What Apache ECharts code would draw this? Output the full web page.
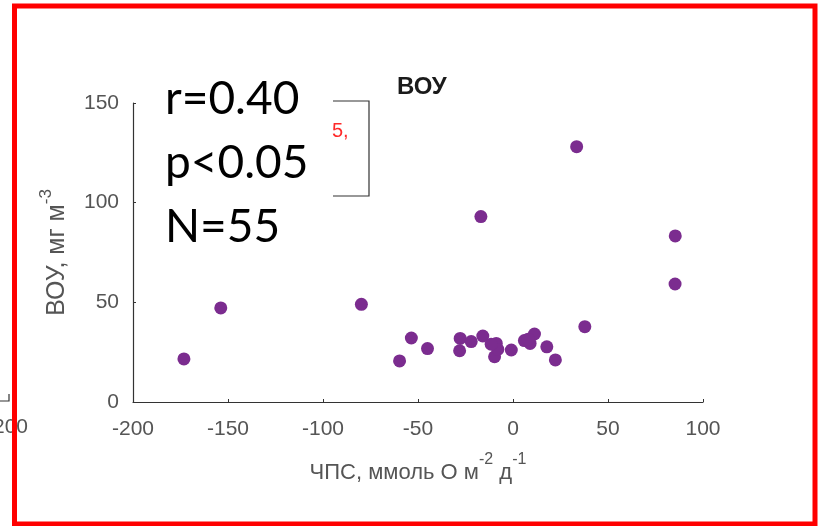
<!DOCTYPE html>
<html>
<head>
<meta charset="utf-8">
<script src="https://cdn.jsdelivr.net/npm/echarts@6/dist/echarts.min.js"></script>
<style>html,body{margin:0;padding:0;background:#fff;}#c{width:820px;height:526px;}</style>
</head>
<body>
<div id="c"></div>
<script>
// Data
var xValues = [-173.2, -153.8, -79.8, -59.7, -53.5, -45.0, -27.8, -28.1, -22.0, -15.9, -16.9, -8.8, -9.7, -8.0, -11.5, -0.9, 6.0, 11.3, 9.0, 8.0, 17.8, 22.3, 33.5, 37.8, 85.4, 85.3];
var yValues = [21.6, 47.2, 49.0, 20.6, 32.1, 26.8, 31.9, 25.7, 30.3, 33.1, 93.0, 29.4, 22.7, 26.4, 29.0, 26.1, 30.8, 34.1, 29.4, 31.5, 27.7, 21.1, 128.1, 37.8, 83.3, 59.2];
var xTicks = [-200, -150, -100, -50, 0, 50, 100];
var yTicks = [0, 50, 100, 150];
var statLines = ['r=0.40', 'p<0.05', 'N=55'];
var chartTitle = 'ВОУ';

var points = xValues.map(function (x, i) { return [x, yValues[i]]; });

var chart = echarts.init(document.getElementById('c'), null, {renderer: 'canvas'});
var gray = '#555555';
var axisCol = '#333333';
var font = 'Liberation Sans, Arial, sans-serif';

var statText = statLines.map(function (t, i) {
  return {
    type: 'text', left: 165, top: 76 + i * 64, z: 100,
    style: {text: t, fill: '#000', font: '46px Lato, Calibri, sans-serif'}
  };
});

chart.setOption({
  animation: false,
  backgroundColor: '#ffffff',
  title: {
    text: chartTitle, left: 392, top: 70,
    textStyle: {fontFamily: font, fontSize: 24, fontWeight: 'bold', color: '#1a1a1a'}
  },
  grid: {left: 133, right: 117, top: 103, bottom: 124, containLabel: false},
  xAxis: {
    type: 'value', min: xTicks[0], max: xTicks[xTicks.length - 1], interval: 50,
    name: '{n|ЧПС, ммоль О м}{s|-2}{n| д}{s|-1}',
    nameLocation: 'middle', nameGap: 50,
    nameTextStyle: {
      rich: {
        n: {fontFamily: font, fontSize: 22, color: gray, verticalAlign: 'bottom', lineHeight: 32},
        s: {fontFamily: font, fontSize: 16, color: gray, verticalAlign: 'top', lineHeight: 32, padding: [0, 0, 18, 0]}
      }
    },
    axisLine: {show: true, onZero: false, lineStyle: {color: axisCol, width: 1.2}},
    axisTick: {show: true, inside: true, length: 3, lineStyle: {color: axisCol}},
    axisLabel: {fontFamily: font, fontSize: 21, color: gray, margin: 17},
    splitLine: {show: false}
  },
  yAxis: {
    type: 'value', min: yTicks[0], max: yTicks[yTicks.length - 1], interval: 50,
    name: '{n|ВОУ, мг м}{s|-3}',
    nameLocation: 'middle', nameGap: 58, nameRotate: 90,
    nameTextStyle: {
      rich: {
        n: {fontFamily: font, fontSize: 25, color: gray, verticalAlign: 'bottom', lineHeight: 32},
        s: {fontFamily: font, fontSize: 17, color: gray, verticalAlign: 'top', lineHeight: 32, padding: [0, 0, 18, 0]}
      }
    },
    axisLine: {show: true, onZero: false, lineStyle: {color: axisCol, width: 1.2}},
    axisTick: {show: true, inside: true, length: 3, lineStyle: {color: axisCol}},
    axisLabel: {fontFamily: font, fontSize: 21, color: gray, margin: 14},
    splitLine: {show: false}
  },
  series: [{
    type: 'scatter',
    data: points,
    symbol: 'circle',
    symbolSize: 13,
    itemStyle: {color: '#7b2c8f', opacity: 1}
  }],
  graphic: [
    // partial bracket box behind the stats text
    {type: 'polyline', z: 50, shape: {points: [[333, 101], [369, 101], [369, 196], [333, 196]]},
     style: {stroke: '#333', lineWidth: 1.2, fill: null}},
    {type: 'text', left: 332, top: 121, z: 50,
     style: {text: '5,', fill: '#ff2a2a', font: '20px Liberation Sans, Arial, sans-serif'}},
    // leftover fragments outside the frame
    {type: 'text', left: -14, top: 417, z: 40,
     style: {text: '-200', fill: gray, font: '21px Liberation Sans, Arial, sans-serif'}},
    {type: 'text', left: 0, top: -16, z: 40,
     style: {text: '200', fill: gray, font: '21px Liberation Sans, Arial, sans-serif'}},
    {type: 'polyline', z: 40, shape: {points: [[0, 401], [9, 401], [9, 394]]},
     style: {stroke: axisCol, lineWidth: 1.2, fill: null}},
    // red frame
    {type: 'rect', z: 200, shape: {x: 14.5, y: 6, width: 800.5, height: 518},
     style: {stroke: '#ff0000', lineWidth: 5, fill: null}}
  ].concat(statText)
});
</script>
</body>
</html>
